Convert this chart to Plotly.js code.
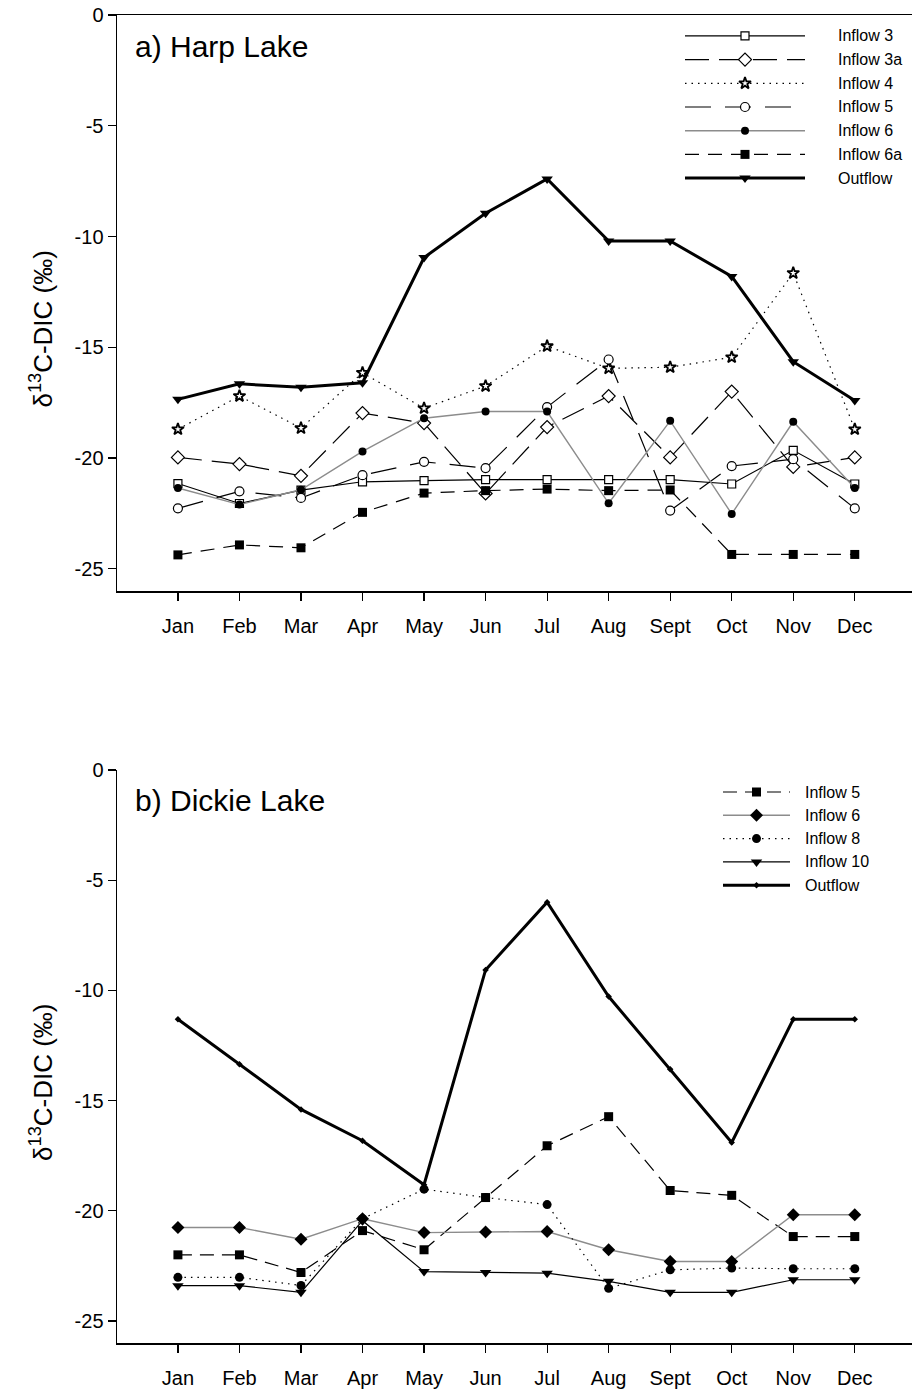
<!DOCTYPE html>
<html>
<head>
<meta charset="utf-8">
<script src="https://cdn.plot.ly/plotly-3.0.1.min.js"></script>
<style>
  html, body { margin: 0; padding: 0; background: #fff; }
  #chart { width: 915px; height: 1389px; }
</style>
</head>
<body>
<div id="chart"></div>
<script>
// Monthly δ13C-DIC (‰) for the inflows and outflows of Harp Lake and Dickie Lake
const months = ['Jan', 'Feb', 'Mar', 'Apr', 'May', 'Jun', 'Jul', 'Aug', 'Sept', 'Oct', 'Nov', 'Dec'];

// a) Harp Lake
const harpInflow3  = [-21.15, -22.05, -21.45, -21.07, -21.02, -20.97, -20.97, -20.97, -20.97, -21.17, -19.65, -21.17];
const harpInflow3a = [-19.97, -20.27, -20.80, -17.97, -18.42, -21.60, -18.60, -17.20, -19.97, -17.00, -20.40, -19.97];
const harpInflow4  = [-18.70, -17.20, -18.65, -16.15, -17.75, -16.75, -14.95, -15.95, -15.90, -15.45, -11.65, -18.70];
const harpInflow5  = [-22.27, -21.50, -21.80, -20.77, -20.17, -20.45, -17.70, -15.55, -22.37, -20.36, -20.05, -22.27];
const harpInflow6  = [-21.35, -22.10, -21.43, -19.70, -18.20, -17.90, -17.90, -22.04, -18.32, -22.52, -18.36, -21.35];
const harpInflow6a = [-24.37, -23.92, -24.05, -22.45, -21.58, -21.47, -21.40, -21.47, -21.44, -24.35, -24.35, -24.35];
const harpOutflow  = [-17.35, -16.65, -16.80, -16.60, -10.95, -8.95, -7.40, -10.20, -10.20, -11.80, -15.65, -17.40];

// b) Dickie Lake
const dickieInflow5  = [-22.00, -22.00, -22.80, -20.90, -21.77, -19.40, -17.05, -15.73, -19.08, -19.30, -21.17, -21.17];
const dickieInflow6  = [-20.76, -20.76, -21.29, -20.36, -20.99, -20.96, -20.94, -21.77, -22.30, -22.30, -20.18, -20.18];
const dickieInflow8  = [-23.02, -23.02, -23.39, -20.36, -19.02, -19.40, -19.72, -23.52, -22.68, -22.60, -22.63, -22.63];
const dickieInflow10 = [-23.40, -23.40, -23.70, -20.45, -22.76, -22.80, -22.83, -23.20, -23.70, -23.70, -23.13, -23.13];
const dickieOutflow  = [-11.31, -13.35, -15.40, -16.82, -18.82, -9.07, -6.00, -10.28, -13.58, -16.90, -11.31, -11.31];

const yTicks = [0, -5, -10, -15, -20, -25];

const FONT = 'Liberation Sans, Arial, sans-serif';
const GRAY = '#8c8c8c';

// Series styles
const harpSeries = [
  { name: 'Inflow 3',  y: harpInflow3,  line: { color: '#000', width: 1.2, dash: 'solid' },      marker: { symbol: 'square',        size: 8,  color: '#fff', line: { color: '#000', width: 1.2 } } },
  { name: 'Inflow 3a', y: harpInflow3a, line: { color: '#000', width: 1.2, dash: '24px,10px' },  marker: { symbol: 'diamond',       size: 10, color: '#fff', line: { color: '#000', width: 1.2 } } },
  { name: 'Inflow 4',  y: harpInflow4,  line: { color: '#000', width: 1.2, dash: '1.5px,5px' },  marker: { symbol: 'star',          size: 9,  color: '#fff', line: { color: '#000', width: 1.8 } } },
  { name: 'Inflow 5',  y: harpInflow5,  line: { color: '#000', width: 1.2, dash: '26px,14px' },  marker: { symbol: 'circle',        size: 9,  color: '#fff', line: { color: '#000', width: 1.2 } } },
  { name: 'Inflow 6',  y: harpInflow6,  line: { color: GRAY,   width: 1.4, dash: 'solid' },      marker: { symbol: 'circle',        size: 8,  color: '#000', line: { color: '#000', width: 0 } } },
  { name: 'Inflow 6a', y: harpInflow6a, line: { color: '#000', width: 1.2, dash: '14px,9px' },   marker: { symbol: 'square',        size: 9,  color: '#000', line: { color: '#000', width: 0 } } },
  { name: 'Outflow',   y: harpOutflow,  line: { color: '#000', width: 3,   dash: 'solid' },      marker: { symbol: 'triangle-down', size: 10, color: '#000', line: { color: '#000', width: 0 } } }
];
const dickieSeries = [
  { name: 'Inflow 5',  y: dickieInflow5,  line: { color: '#000', width: 1.2, dash: '14px,8px' },  marker: { symbol: 'square',        size: 9,  color: '#000', line: { width: 0 } } },
  { name: 'Inflow 6',  y: dickieInflow6,  line: { color: GRAY,   width: 1.4, dash: 'solid' },     marker: { symbol: 'diamond',       size: 10, color: '#000', line: { width: 0 } } },
  { name: 'Inflow 8',  y: dickieInflow8,  line: { color: '#000', width: 1.2, dash: '1.5px,5px' }, marker: { symbol: 'circle',        size: 9,  color: '#000', line: { width: 0 } } },
  { name: 'Inflow 10', y: dickieInflow10, line: { color: '#000', width: 1.2, dash: 'solid' },     marker: { symbol: 'triangle-down', size: 10, color: '#000', line: { width: 0 } } },
  { name: 'Outflow',   y: dickieOutflow,  line: { color: '#000', width: 3,   dash: 'solid' },     marker: { symbol: 'diamond',       size: 5,  color: '#000', line: { width: 0 } } }
];

const traces = [];
harpSeries.forEach(s => traces.push({
  type: 'scatter', mode: 'lines+markers', x: months, y: s.y, name: s.name,
  line: s.line, marker: s.marker, xaxis: 'x', yaxis: 'y', showlegend: false, cliponaxis: false
}));
dickieSeries.forEach(s => traces.push({
  type: 'scatter', mode: 'lines+markers', x: months, y: s.y, name: s.name,
  line: s.line, marker: s.marker, xaxis: 'x2', yaxis: 'y2', showlegend: false, cliponaxis: false
}));

// Page geometry used to place the keys and labels in paper units
const W = 915, H = 1389, M = { l: 117, r: 3, t: 15, b: 46 };
const plotW = W - M.l - M.r, plotH = H - M.t - M.b;
const px2x = px => (px - M.l) / plotW;
const py2y = py => (H - M.b - py) / plotH;

// Key: a line with the series marker at its midpoint, one row per series, plus its label
const annotations = [];
function addKey(series, xa, ya, textPx, firstRowPx, rowStep) {
  series.forEach((s, i) => {
    traces.push({
      type: 'scatter', mode: 'lines+markers', x: [0, 0.5, 1], y: [i + 1, i + 1, i + 1],
      line: s.line, marker: Object.assign({}, s.marker, { opacity: [0, 1, 0] }),
      xaxis: xa, yaxis: ya, showlegend: false, hoverinfo: 'skip', cliponaxis: false
    });
    annotations.push({
      xref: 'paper', yref: 'paper', x: px2x(textPx), y: py2y(firstRowPx + i * rowStep),
      text: s.name, showarrow: false, xanchor: 'left', yanchor: 'middle',
      font: { family: FONT, size: 16, color: '#000' }
    });
  });
}
addKey(harpSeries, 'x3', 'y3', 836, 35.9, 23.7);
addKey(dickieSeries, 'x4', 'y4', 803, 792, 23.3);

// Panel labels
annotations.push(
  { xref: 'paper', yref: 'paper', x: px2x(133), y: py2y(47), text: 'a) Harp Lake', showarrow: false,
    xanchor: 'left', yanchor: 'middle', font: { family: FONT, size: 30, color: '#000' } },
  { xref: 'paper', yref: 'paper', x: px2x(133), y: py2y(800), text: 'b) Dickie Lake', showarrow: false,
    xanchor: 'left', yanchor: 'middle', font: { family: FONT, size: 30, color: '#000' } }
);

// Vertical axis titles, centred a little below the middle of each panel
const yTitle = 'δ<sup>13</sup>C-DIC (‰)';
['y', 'y2'].forEach(ya => annotations.push({
  xref: 'paper', yref: ya, x: px2x(42), y: -14.2, text: yTitle, textangle: -90, showarrow: false,
  xanchor: 'center', yanchor: 'middle', font: { family: FONT, size: 26, color: '#000' }
}));

const tickFont = { family: FONT, size: 20, color: '#000' };

const xBase = {
  type: 'category', range: [-0.99, 11.93], showgrid: false, zeroline: false,
  showline: true, linecolor: '#000', linewidth: 1.5,
  ticks: 'outside', ticklen: 8, tickwidth: 1.2, tickcolor: '#000', tickfont: tickFont,
  ticklabelstandoff: 8, fixedrange: true
};
const yBase = {
  range: [-26, 0], tickvals: yTicks, ticktext: yTicks.map(String), showgrid: false, zeroline: false,
  showline: true, linecolor: '#000', linewidth: 1.5,
  ticks: 'outside', ticklen: 8, tickwidth: 1.2, tickcolor: '#000', tickfont: tickFont,
  fixedrange: true
};
const hidden = { visible: false, showgrid: false, zeroline: false, fixedrange: true };

const layout = {
  width: W, height: H,
  margin: M,
  paper_bgcolor: '#fff', plot_bgcolor: 'rgba(0,0,0,0)',
  showlegend: false,
  xaxis:  Object.assign({}, xBase, { anchor: 'y', mirror: true }),
  yaxis:  Object.assign({}, yBase, { domain: [py2y(591), 1], anchor: 'x' }),
  xaxis2: Object.assign({}, xBase, { anchor: 'y2' }),
  yaxis2: Object.assign({}, yBase, { domain: [0, py2y(770)], anchor: 'x2' }),
  xaxis3: Object.assign({}, hidden, { domain: [px2x(685), px2x(805)], range: [0, 1], anchor: 'y3' }),
  yaxis3: Object.assign({}, hidden, { domain: [py2y(35.9 + 6.5 * 23.7), py2y(35.9 - 0.5 * 23.7)], range: [7.5, 0.5], anchor: 'x3' }),
  xaxis4: Object.assign({}, hidden, { domain: [px2x(723), px2x(790)], range: [0, 1], anchor: 'y4' }),
  yaxis4: Object.assign({}, hidden, { domain: [py2y(792 + 4.5 * 23.3), py2y(792 - 0.5 * 23.3)], range: [5.5, 0.5], anchor: 'x4' }),
  annotations: annotations
};

Plotly.newPlot('chart', traces, layout, { displayModeBar: false, staticPlot: true });
</script>
</body>
</html>
